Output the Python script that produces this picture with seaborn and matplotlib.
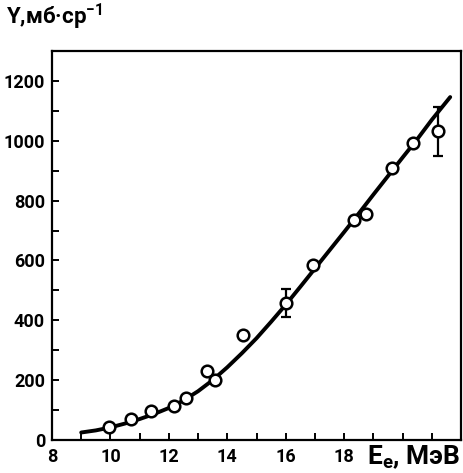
import matplotlib
matplotlib.use("Agg")
import matplotlib.pyplot as plt
import pandas as pd
import seaborn as sns

# Measured yield points (electron energy, MeV ; yield, mb/sr)
energy = [9.95, 10.7, 11.38, 12.17, 12.6, 13.3, 13.58, 14.54, 16.02, 16.95, 18.35, 18.76, 19.63, 20.36, 21.2]
yield_ = [44, 70, 97, 113, 140, 230, 202, 352, 457, 584, 735, 756, 908, 992, 1031]

# Points carrying error bars
err_energy = [16.02, 21.2]
err_yield = [457, 1031]
err_size = [46, 82]

# Fitted curve
curve_energy = [9.0, 9.5, 10.0, 10.5, 11.0, 11.5, 12.0, 12.5, 13.0, 13.5, 14.0, 14.5,
                15.0, 15.5, 16.0, 16.5, 17.0, 17.5, 18.0, 18.5, 19.0, 19.5, 20.0, 20.5,
                21.0, 21.63]
curve_yield = [25, 32, 42, 55, 70, 87, 107, 132, 163, 200, 243, 290,
               340, 395, 452, 512, 573, 634, 695, 757, 820, 882, 944, 1005,
               1070, 1146]

x_ticks = [8, 9, 10, 11, 12, 13, 14, 15, 16, 17, 18, 19, 20, 21]
x_labels = ["8", "", "10", "", "12", "", "14", "", "16", "", "18", "", "", ""]
y_ticks = list(range(0, 1300, 100))
y_labels = [str(v) if v % 200 == 0 else "" for v in y_ticks]

sns.set_style("ticks")
plt.rcParams["font.family"] = ["Roboto", "DejaVu Sans"]
plt.rcParams["font.weight"] = "bold"
plt.rcParams["text.color"] = "black"
plt.rcParams["mathtext.fontset"] = "custom"
plt.rcParams["mathtext.rm"] = "Roboto:bold"
plt.rcParams["mathtext.it"] = "Roboto:bold"
plt.rcParams["mathtext.bf"] = "Roboto:bold"

fig = plt.figure(figsize=(4.63, 4.73), dpi=100)
ax = fig.add_axes([0.1123, 0.0698, 0.8834, 0.8224])

df_curve = pd.DataFrame({"E": curve_energy, "Y": curve_yield})
df_pts = pd.DataFrame({"E": energy, "Y": yield_})

sns.lineplot(data=df_curve, x="E", y="Y", ax=ax, color="black", lw=2.8,
             sort=True, zorder=2)
ax.errorbar(err_energy, err_yield, yerr=err_size, fmt="none", ecolor="black",
            elinewidth=1.6, capsize=3.5, capthick=1.6, zorder=3)
sns.scatterplot(data=df_pts, x="E", y="Y", ax=ax, marker="o", s=70,
                facecolor="white", edgecolor="black", linewidth=1.8, zorder=4)

ax.set_xlim(8, 22)
ax.set_ylim(0, 1300)
ax.set_xticks(x_ticks)
ax.set_xticklabels(x_labels)
ax.set_yticks(y_ticks)
ax.set_yticklabels(y_labels)
ax.tick_params(direction="in", length=5, width=1.4, labelsize=13, pad=6,
               colors="black")
ax.tick_params(axis="y", pad=5)
for s in ax.spines.values():
    s.set_linewidth(1.6)
    s.set_color("black")
    s.set_visible(True)
ax.set_xlabel("")
ax.set_ylabel("")

fig.text(0.012, 0.948, "Y,мб·ср$^{-1}$", fontsize=16, fontweight="bold",
         color="black", ha="left", va="baseline")
fig.text(0.993, 0.018, r"E$_{\mathrm{e}}$, МэВ", fontsize=19, fontweight="bold",
         color="black", ha="right", va="baseline")

fig.savefig("out.png", dpi=100)
